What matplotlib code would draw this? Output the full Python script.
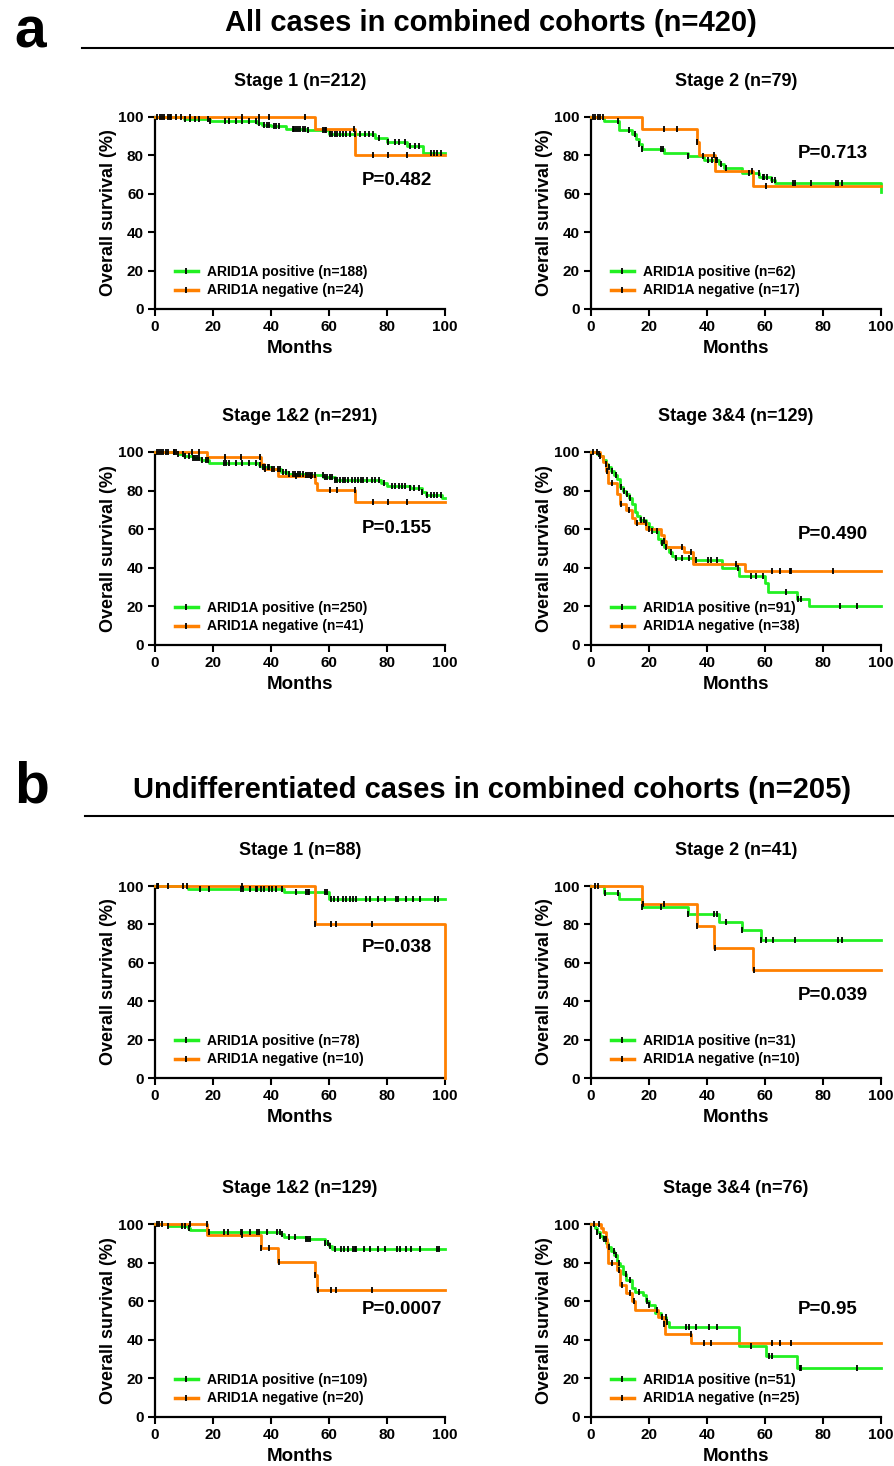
import matplotlib.pyplot as plt
import numpy as np
from matplotlib.lines import Line2D

plt.rcParams['font.family'] = ['Liberation Sans', 'DejaVu Sans']
plt.rcParams['font.weight'] = 'bold'
plt.rcParams['axes.labelweight'] = 'bold'

GREEN = '#22f022'
ORANGE = '#ff8000'

# ---- a: all cases -------------------------------------------------------
# Stage 1 (n=212)
a1_pos_t = [10, 19, 35, 37, 40, 45, 52, 60, 76, 80, 87, 92.5]
a1_pos_s = [99, 98, 97, 96, 95.5, 94, 93, 91, 89, 87, 85, 81]
a1_pos_c = [0.6, 1.7, 2.5, 3.2, 4.6, 5.6, 7.2, 8.9, 10.4, 12.2, 13.9, 15.1, 18.3, 19.1,
            24.3, 25.5, 27.8, 29.9, 32.4, 34.8, 36, 37.7, 38.5, 39.4, 40.9, 41.7, 42.9,
            47.5, 48.1, 48.7, 49.2, 50, 51, 51.6, 52.7, 57.9, 58.5, 59.1, 60.5, 61.2, 62,
            62.8, 63.7, 64.9, 66, 67.2, 68.9, 70.7, 72.4, 73.9, 75.3, 77.4, 80.5, 82.9,
            84, 86.3, 88, 89.8, 91, 95, 96.2, 97.3, 98.5]
a1_neg_t = [55, 69]
a1_neg_s = [93.5, 80]
a1_neg_c = [5, 12, 30, 36, 39.4, 51.6, 68.5, 75.3, 80.5, 86.9]

# Stage 2 (n=79)
a2_pos_t = [4.5, 9.5, 14, 15.5, 16.5, 17.5, 25, 33.5, 39, 44, 46, 52, 58, 62, 63.5, 100]
a2_pos_s = [98, 93, 91, 88.7, 86, 83.5, 81.5, 79.5, 77.5, 75.5, 73.5, 71, 69, 67, 65.5, 61]
a2_pos_c = [0.6, 1.5, 2.3, 3.2, 4, 9.4, 13, 15.1, 16.5, 17.7, 24, 24.8, 33.6, 38.5, 40.2,
            41.7, 43, 43.6, 44.8, 46.5, 54.6, 57.9, 59.3, 59.8, 60.7, 62.4, 63.3, 69.6,
            70.2, 76, 84.6, 85.2, 86.4]
a2_neg_t = [17.7, 36.5, 37.2, 42.8, 56]
a2_neg_s = [94, 87, 80, 72, 64]
a2_neg_c = [25.2, 29.8, 36.7, 42.5, 55.5, 60.2]

# Stage 1&2 (n=291)
a3_pos_t = [8, 10, 13, 16, 18.5, 36, 37, 40, 43.5, 46, 52, 58, 62, 78, 80, 88, 92, 93.5, 99]
a3_pos_s = [99, 97.8, 96.8, 96, 94.5, 93.5, 92.2, 91.2, 89.5, 88.7, 88, 87, 85.4, 84,
            82.5, 81.2, 79.5, 77.5, 76]
a3_pos_c = [0.6, 1.4, 2.1, 2.9, 3.7, 4.6, 6.4, 7.2, 8.1, 9.5, 10.4, 11.6, 13, 13.7, 14.5,
            15.1, 16.2, 17.6, 18.3, 23.8, 24.6, 25.5, 27.8, 29.9, 32.4, 34.8, 36.2, 37.1,
            38, 38.8, 39.4, 40.3, 41.1, 42.3, 43.1, 44, 45.2, 46.3, 47.5, 48.4, 49.2, 50.1,
            51, 52.1, 52.7, 53.3, 54.2, 55, 57.9, 58.5, 59.3, 60.3, 61.2, 62, 62.8, 63.7,
            64.7, 65.5, 66.6, 67.8, 68.9, 70.1, 70.9, 71.8, 73.2, 74.7, 75.9, 77.1, 78.8,
            81.7, 82.9, 84, 85.2, 86.3, 88.1, 89.2, 91, 92.1, 93.9, 95, 96.2, 97.3, 98.5]
a3_neg_t = [18, 36.5, 37.5, 42.5, 55, 56, 69]
a3_neg_s = [97.3, 94, 91, 87.4, 84, 80.2, 74]
a3_neg_c = [6.4, 12.7, 15, 24.3, 29.5, 36.2, 38, 48.7, 53.9, 60.3, 62.6, 68.9, 75.3, 80.5, 86.9]

# Stage 3&4 (n=129)
a4_pos_t = [2, 3, 4, 5, 6, 7, 8, 9, 10, 11, 12, 13, 14, 15, 16, 17, 19, 20, 21, 23, 24,
            25, 27, 28, 29, 35, 45, 51, 60, 61, 71, 75]
a4_pos_s = [99, 98, 96, 94, 92, 90, 88, 86, 82, 80, 78, 76, 73, 69, 67, 65, 63, 61, 59,
            55, 53, 51, 48, 46, 45, 44, 40, 35.5, 32, 27.5, 24, 20]
a4_pos_c = [0.6, 2.7, 5, 6.1, 7.3, 8.7, 10.2, 11.3, 12.5, 13.6, 17.1, 18.2, 19.1, 21.1,
            22.9, 24.6, 25.8, 27.5, 29.2, 31.5, 33.8, 36.1, 40.2, 41.3, 43.3, 50.6, 55.2,
            56.9, 59.2, 67.3, 71.4, 72.5, 85.8, 91.6]
a4_neg_t = [3, 4, 5, 6, 9, 10, 12, 14, 15, 19, 24, 25, 26, 32, 35, 53]
a4_neg_s = [98, 95, 90, 84, 78, 73, 70, 66, 63, 60, 57, 54, 51, 48, 42, 38.5]
a4_neg_c = [2.1, 3.2, 5.5, 7.3, 10.2, 13, 15.9, 20, 25.2, 31.5, 34.4, 50, 62.5, 65.2,
            68.7, 69, 83.3]

# ---- b: undifferentiated cases -----------------------------------------
# Stage 1 (n=88)
b1_pos_t = [11.5, 44.5, 60]
b1_pos_s = [98.5, 97, 93]
b1_pos_c = [0.6, 1.2, 4.6, 9.8, 11, 15.6, 18.7, 29.5, 30.3, 32.9, 34.7, 35.3, 36.4, 37.6,
            39.3, 40.2, 41.6, 43.7, 48.6, 52, 52.6, 53.2, 58.7, 59.2, 60.7, 61.8, 63, 64.7,
            65.9, 67.3, 68.2, 69.4, 72.8, 74.2, 76.9, 79.2, 83.2, 83.8, 86.7, 89, 91.3,
            96.5, 97.7]
b1_neg_t = [55, 100]
b1_neg_s = [80, 0]
b1_neg_c = [1.2, 30, 55.3, 60.7, 62.4, 74.8]

# Stage 2 (n=41)
b2_pos_t = [4.5, 9.5, 17.5, 33.5, 44, 52, 58.5]
b2_pos_s = [96.5, 93, 89, 85.5, 81.5, 77, 72]
b2_pos_c = [1.3, 2.4, 4.7, 9.4, 17.7, 24, 33.6, 42.5, 43.6, 46.5, 52, 58.7, 60.2, 62.7,
            70.2, 85.2, 86.6]
b2_neg_t = [17.7, 36.5, 42.5, 56]
b2_neg_s = [90.5, 79, 67.5, 56.5]
b2_neg_c = [17.9, 25.2, 36.7, 42.7, 56.2]

# Stage 1&2 (n=129)
b3_pos_t = [4.5, 11.5, 12, 18, 43.5, 44.5, 52, 58.5, 60, 61]
b3_pos_s = [99, 98, 97, 96, 95, 93.5, 92, 90, 88.5, 87]
b3_pos_c = [0.6, 1.4, 2.3, 4.6, 9.2, 10.4, 11.6, 18.7, 23.7, 25.2, 29.5, 30, 32.9, 35.3,
            35.8, 38.7, 42.2, 43, 43.7, 46.2, 48.3, 52, 52.6, 53.4, 58.7, 59.5, 60.3, 62.2,
            64.2, 65.3, 66.5, 68.2, 68.8, 69.4, 71.9, 74, 76.9, 79.2, 83.5, 84.4, 86.7,
            88.4, 91.3, 97.1, 98]
b3_neg_t = [18, 36.5, 42.5, 55, 56]
b3_neg_s = [94.5, 87.5, 80.5, 73.5, 66]
b3_neg_c = [12.1, 17.9, 30, 36.7, 39.3, 42.6, 55.2, 56.2, 60.7, 62.4, 74.8]

# Stage 3&4 (n=76)
b4_pos_t = [1.5, 2, 3, 4, 5, 6, 7, 8, 9, 10, 11, 12, 14, 15, 18, 19, 20, 22, 24, 26, 27,
            51, 60.5, 71]
b4_pos_s = [98, 96, 94, 92, 90, 88, 86, 84, 80, 78, 74, 71, 67, 65, 63, 60, 58, 54, 52,
            49, 46.5, 37, 31.5, 25.5]
b4_pos_c = [0.9, 2.1, 3.2, 4.4, 6.1, 7.9, 8.7, 9.6, 11.9, 13.6, 16.5, 19.4, 20, 25.8,
            26.3, 32.7, 33.8, 36.1, 40.8, 43.6, 55.2, 61.5, 62.4, 71.9, 72.5, 91.8]
b4_neg_t = [3.5, 4, 5, 5.5, 6, 9, 10, 12, 14, 15, 23, 25, 25.5, 34.5]
b4_neg_s = [98, 96, 92, 88, 80, 76, 68.5, 64, 60, 55.5, 52, 48, 43, 38.5]
b4_neg_c = [2.7, 5, 7.3, 9.6, 10.7, 13.6, 14.8, 22.9, 24.6, 25.2, 34.4, 39, 41.3, 62.5,
            65, 69]

titles = ['Stage 1 (n=212)', 'Stage 2 (n=79)', 'Stage 1&2 (n=291)', 'Stage 3&4 (n=129)',
          'Stage 1 (n=88)', 'Stage 2 (n=41)', 'Stage 1&2 (n=129)', 'Stage 3&4 (n=76)']
n_pos = [188, 62, 250, 91, 78, 31, 109, 51]
n_neg = [24, 17, 41, 38, 10, 10, 20, 25]
p_text = ['P=0.482', 'P=0.713', 'P=0.155', 'P=0.490',
          'P=0.038', 'P=0.039', 'P=0.0007', 'P=0.95']
p_y = [67, 81, 60.5, 57.5, 68, 43, 55.5, 55.5]

curves = [
    (a1_pos_t, a1_pos_s, a1_pos_c, a1_neg_t, a1_neg_s, a1_neg_c),
    (a2_pos_t, a2_pos_s, a2_pos_c, a2_neg_t, a2_neg_s, a2_neg_c),
    (a3_pos_t, a3_pos_s, a3_pos_c, a3_neg_t, a3_neg_s, a3_neg_c),
    (a4_pos_t, a4_pos_s, a4_pos_c, a4_neg_t, a4_neg_s, a4_neg_c),
    (b1_pos_t, b1_pos_s, b1_pos_c, b1_neg_t, b1_neg_s, b1_neg_c),
    (b2_pos_t, b2_pos_s, b2_pos_c, b2_neg_t, b2_neg_s, b2_neg_c),
    (b3_pos_t, b3_pos_s, b3_pos_c, b3_neg_t, b3_neg_s, b3_neg_c),
    (b4_pos_t, b4_pos_s, b4_pos_c, b4_neg_t, b4_neg_s, b4_neg_c),
]

W, H = 894, 1466
fig = plt.figure(figsize=(W / 100, H / 100), dpi=100)

# axes boxes in pixels: (left, top, right, bottom)
col_x = [(155, 445), (591, 881)]
row_y = [(117, 309), (452, 645), (886, 1078), (1224, 1417)]


def draw_km(ax, t, s, c, color):
    x = np.r_[0, t, 100]
    y = np.r_[100, s, s[-1]]
    ax.step(x, y, where='post', color=color, lw=2, clip_on=False, zorder=3)
    idx = np.searchsorted(x, c, side='right') - 1
    ax.plot(c, y[idx], ls='none', marker='|', color='k', ms=5, mew=1.3,
            clip_on=False, zorder=4)


for i, (pt, ps, pc, nt, ns, nc) in enumerate(curves):
    r, col = divmod(i, 2)
    x0, x1 = col_x[col]
    y0, y1 = row_y[r]
    ax = fig.add_axes([x0 / W, 1 - y1 / H, (x1 - x0) / W, (y1 - y0) / H])
    draw_km(ax, pt, ps, pc, GREEN)
    draw_km(ax, nt, ns, nc, ORANGE)

    ax.set_xlim(0, 100)
    ax.set_ylim(0, 100)
    ax.set_xticks(range(0, 101, 20))
    ax.set_yticks(range(0, 101, 20))
    for sp in ['top', 'right']:
        ax.spines[sp].set_visible(False)
    for sp in ['left', 'bottom']:
        ax.spines[sp].set_linewidth(1.6)
    ax.tick_params(direction='out', length=5, width=1.5, labelsize=11, pad=3)
    ax.set_xlabel('Months', fontsize=13.5, labelpad=4)
    ax.set_ylabel('Overall survival (%)', fontsize=13, labelpad=1)
    ax.set_title(titles[i], fontsize=13, fontweight='bold', pad=22)
    ax.text(71.4, p_y[i], p_text[i], fontsize=13.5, ha='left', va='center')

    handles = [Line2D([], [], color=GREEN, lw=2.5, marker='|', mec='k', ms=5, mew=1.3),
               Line2D([], [], color=ORANGE, lw=2.5, marker='|', mec='k', ms=5, mew=1.3)]
    labels = [f'ARID1A positive (n={n_pos[i]})', f'ARID1A negative (n={n_neg[i]})']
    ax.legend(handles, labels, loc='lower left', bbox_to_anchor=(0.07, 0.06),
              frameon=False, fontsize=10, handlelength=1.6, handletextpad=0.7,
              labelspacing=0.3, borderpad=0, borderaxespad=0, numpoints=1)

# panel letters, headers and rules
fig.text(14 / W, 1 - 47 / H, 'a', fontsize=41, fontweight='bold', va='baseline')
fig.text(14 / W, 1 - 803 / H, 'b', fontsize=41, fontweight='bold', va='baseline')
fig.text(491 / W, 1 - 23 / H, 'All cases in combined cohorts (n=420)',
         fontsize=21, fontweight='bold', ha='center', va='center')
fig.text(492 / W, 1 - 790 / H, 'Undifferentiated cases in combined cohorts (n=205)',
         fontsize=21, fontweight='bold', ha='center', va='center')
fig.add_artist(Line2D([82 / W, 1], [1 - 48 / H] * 2, color='k', lw=1.5))
fig.add_artist(Line2D([85 / W, 1], [1 - 816 / H] * 2, color='k', lw=1.5))

fig.savefig('out.png', dpi=100)
